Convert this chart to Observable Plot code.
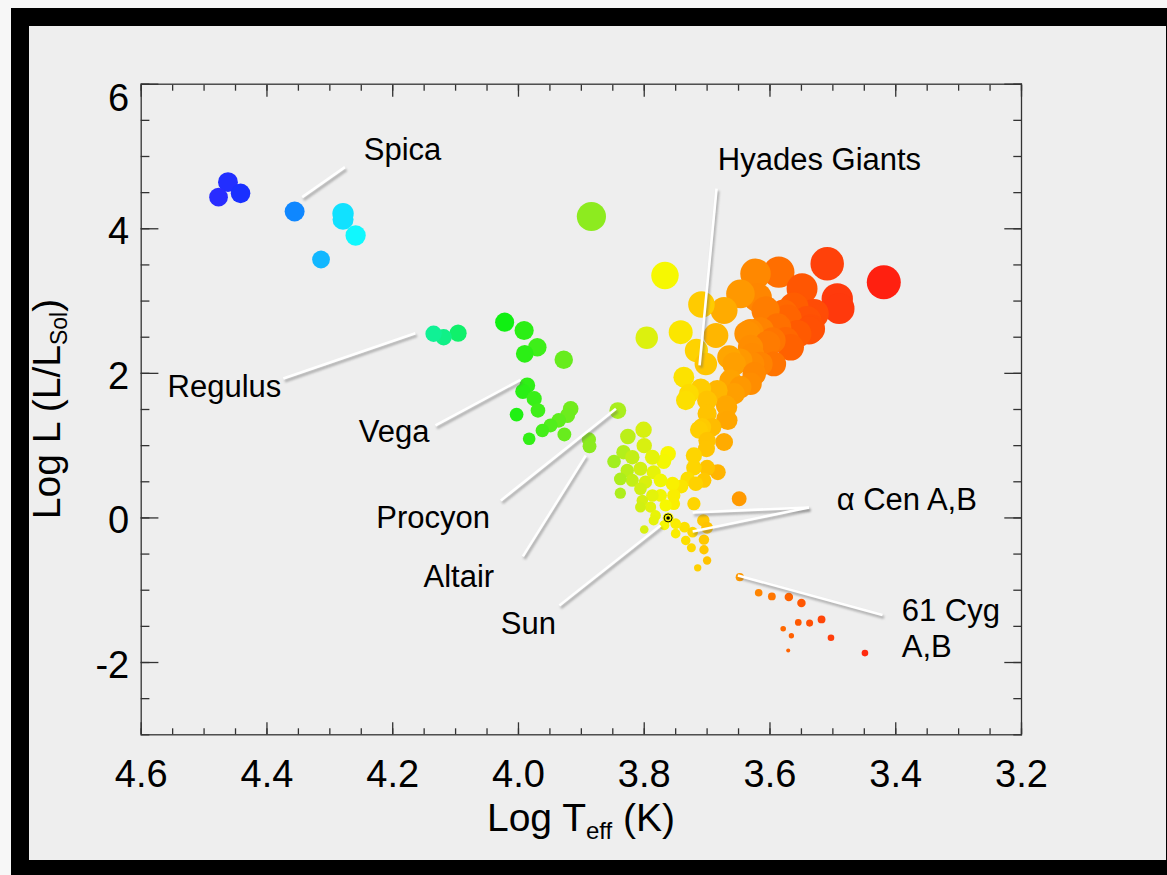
<!DOCTYPE html>
<html>
<head>
<meta charset="utf-8">
<script src="https://cdn.jsdelivr.net/npm/d3@7"></script>
<script src="https://cdn.jsdelivr.net/npm/@observablehq/plot@0.6"></script>
<style>
  html, body { margin: 0; padding: 0; width: 1167px; height: 875px; overflow: hidden; background: #f7f7f7; }
  #frame { position: absolute; left: 11px; top: 8px; width: 1156px; height: 880px; background: #000; }
  #panel { position: absolute; left: 29px; top: 26px; width: 1137px; height: 834px; background: #eeeeee; }
  #chart { position: absolute; left: 0; top: 0; }
</style>
</head>
<body>
<div id="frame"></div>
<div id="panel"></div>
<div id="chart"></div>
<script>
// ---- Stars: log effective temperature (K) and log luminosity (L/Lsun) ----

// Hot luminous stars (B stars, plus one bright F supergiant)
const hotT = [4.462, 4.477, 4.442, 4.356, 4.279, 4.279, 4.259, 4.314, 3.884];
const hotL = [4.645, 4.437, 4.49, 4.239, 4.21, 4.13, 3.907, 3.575, 4.17];

// Regulus and companions
const regT = [4.135, 4.119, 4.096];
const regL = [2.548, 2.50, 2.556];

// A stars and upper main sequence
const aT = [4.022, 3.991, 3.970, 3.990, 3.928, 3.986, 3.993, 3.975, 3.969, 4.003,
            3.983, 3.962, 3.949, 3.936, 3.922, 3.917, 3.927, 3.888, 3.887, 3.842];
const aL = [2.708, 2.593, 2.362, 2.271, 2.188, 1.833, 1.75, 1.649, 1.487, 1.43,
            1.095, 1.21, 1.28, 1.35, 1.418, 1.51, 1.155, 1.085, 0.99, 1.485];

// F, G and K dwarfs around the Sun
const fgkT = [3.801, 3.826, 3.800, 3.833, 3.848, 3.819, 3.787, 3.762, 3.769, 3.827,
              3.806, 3.785, 3.838, 3.819, 3.798, 3.774, 3.755, 3.838, 3.806, 3.787,
              3.774, 3.753, 3.803, 3.806, 3.790, 3.766, 3.753, 3.785, 3.800, 3.768,
              3.750, 3.750, 3.736, 3.734, 3.721, 3.723, 3.725, 3.706, 3.700, 3.705,
              3.705, 3.700, 3.715, 3.649, 3.721, 3.731, 3.718, 3.700, 3.705, 3.683,
              3.741, 3.721, 3.701, 3.713, 3.692, 3.673, 3.700, 3.782];
const fgkL = [1.22, 1.127, 1.0, 0.91, 0.78, 0.84, 0.84, 0.888, 0.78, 0.657,
              0.68, 0.633, 0.54, 0.52, 0.495, 0.52, 0.473, 0.343, 0.404, 0.311,
              0.311, 0.311, 0.24, 0.15, 0.15, 0.173, 0.197, -0.035, -0.16, -0.10,
              -0.08, -0.218, -0.127, -0.311, 0.197, -0.197, -0.412, -0.035, -0.135, -0.30,
              -0.44, -0.588, -0.69, 0.265, 0.694, 0.54, 0.473, 0.694, 0.52, 0.633,
              0.436, 0.865, 0.958, 1.22, 1.256, 1.05, 1.07, 0.035];

// Subgiants and giants (Hyades giants and the red giant branch)
const giantT = [3.729, 3.700, 3.670, 3.734, 3.710, 3.657, 3.631, 3.700, 3.708,
                3.767, 3.796, 3.742, 3.709, 3.673, 3.717, 3.686, 3.737, 3.702, 3.665,
                3.663, 3.684, 3.647, 3.668, 3.667, 3.647, 3.631, 3.615, 3.594, 3.596,
                3.588, 3.623, 3.586, 3.647, 3.620, 3.549, 3.562, 3.607, 3.556, 3.538,
                3.509, 3.493, 3.490, 3.419, 3.530, 3.541, 3.572, 3.567, 3.615, 3.628,
                3.636, 3.657, 3.578, 3.535, 3.588, 3.631, 3.604, 3.575, 3.628, 3.625,
                3.670];
const giantL = [1.718, 1.625, 1.372, 1.625, 1.787, 1.718, 1.856, 1.44, 1.256,
                3.354, 2.492, 2.57, 2.953, 2.87, 2.317, 2.524, 1.947, 2.13, 2.224,
                1.9, 1.763, 1.81, 1.533, 1.35, 2.18, 2.36, 2.13, 2.13, 2.455,
                2.64, 3.378, 3.40, 3.10, 3.05, 3.17, 2.916, 2.87, 2.548, 2.594,
                3.516, 3.03, 2.894, 3.261, 2.824, 2.732, 2.755, 2.36, 2.594, 2.13,
                2.548, 2.13, 2.824, 2.617, 2.617, 2.57, 2.41, 2.455, 2.248, 1.995,
                1.556];

// K and M dwarfs (61 Cyg neighbourhood)
const redT = [3.648, 3.618, 3.597, 3.570, 3.550, 3.518, 3.537, 3.555, 3.579, 3.566, 3.503, 3.571, 3.449];
const redL = [-0.819, -1.035, -1.086, -1.095, -1.178, -1.404, -1.455, -1.445, -1.532, -1.63, -1.657, -1.833, -1.87];

// The Sun
const sunT = [3.762];
const sunL = [0.0];

// Named stars: label anchor (start of text) and pointer lines
const labelText = ["Spica", "Hyades Giants", "Regulus", "Vega", "Procyon", "Altair", "Sun", "α Cen A,B", "61 Cyg\nA,B"];
const labelT = [4.246, 3.683, 4.558, 4.254, 4.226, 4.151, 4.028, 3.494, 3.3905];
const labelL = [5.111, 4.972, 1.833, 1.21, 0.021, -0.795, -1.445, 0.27, -1.515];

const pointerT1 = [4.344, 3.685, 4.374, 4.132, 4.028, 3.993, 3.935, 3.538, 3.538, 3.651];
const pointerL1 = [4.437, 4.557, 1.929, 1.279, 0.242, -0.532, -1.21, 0.145, 0.145, -0.795];
const pointerT2 = [4.276, 3.712, 4.164, 3.997, 3.845, 3.893, 3.774, 3.723, 3.723, 3.421];
const pointerL2 = [4.852, 2.109, 2.556, 1.911, 1.51, 0.864, -0.104, 0.076, -0.187, -1.343];

// Axis ticks
const xMajor = [4.6, 4.4, 4.2, 4.0, 3.8, 3.6, 3.4, 3.2];
const yMajor = [6, 4, 2, 0, -2];
const xMinor = d3.range(3.2, 4.6001, 0.05).map(v => +v.toFixed(2));
const yMinor = d3.range(-3, 6.001, 0.5);

// Temperature colour ramp (cool red through yellow and green to hot blue)
const colorStops = [3.42, 3.50, 3.56, 3.62, 3.67, 3.71, 3.765, 3.80, 3.85, 3.90, 3.95, 4.02, 4.12, 4.26, 4.32, 4.36, 4.44, 4.48];
const colorRange = ["#ff2010", "#ff3c0c", "#ff5c00", "#ff8600", "#ffa800", "#ffcc00", "#f8f800", "#d8f010",
                    "#a0ee20", "#84ea1e", "#50ee1c", "#10f010", "#10f088", "#10f8ff", "#12b0ff", "#0f82ff",
                    "#1830ff", "#2a2cff"];

const zip = (T, L) => T.map((t, i) => ({logT: t, logL: L[i]}));
const stars = [
  ...zip(hotT, hotL), ...zip(regT, regL), ...zip(aT, aL),
  ...zip(fgkT, fgkL), ...zip(giantT, giantL), ...zip(redT, redL)
];
const sun = zip(sunT, sunL);
const labels = labelText.map((name, i) => ({name, logT: labelT[i], logL: labelL[i]}));
const pointers = pointerT1.map((t, i) => ({t1: t, l1: pointerL1[i], t2: pointerT2[i], l2: pointerL2[i]}));

// Stellar radius from L ∝ R² T⁴ (log R in solar units, Teff_sun = 10^3.76)
const logR = d => 0.5 * d.logL - 2 * (d.logT - 3.76);

const axisColor = "#333";
const tickOpts = {label: null, fill: "none", stroke: axisColor, strokeWidth: 1.3};
const font = "'Liberation Sans', Arial, Helvetica, sans-serif";

const plot = Plot.plot({
  width: 1167,
  height: 875,
  marginLeft: 140.7,
  marginRight: 146,
  marginTop: 83.7,
  marginBottom: 140.7,
  style: {background: "transparent", fontFamily: font, color: "#000", overflow: "visible"},
  x: {domain: [4.6, 3.2]},
  y: {domain: [-3, 6]},
  color: {type: "linear", domain: colorStops, range: colorRange, interpolate: "rgb"},
  r: {type: "linear", domain: [-0.54, -0.2, 0.1, 0.93, 2.31], range: [2, 4, 6.3, 10, 17], clamp: true},
  marks: [
    // inward ticks on all four sides
    Plot.axisX(xMinor, {anchor: "bottom", tickSize: -6, ...tickOpts}),
    Plot.axisX(xMajor, {anchor: "bottom", tickSize: -12, ...tickOpts}),
    Plot.axisX(xMinor, {anchor: "top", tickSize: -6, ...tickOpts}),
    Plot.axisX(xMajor, {anchor: "top", tickSize: -12, ...tickOpts}),
    Plot.axisY(yMinor, {anchor: "left", tickSize: -8.7, ...tickOpts}),
    Plot.axisY(yMajor, {anchor: "left", tickSize: -17.7, ...tickOpts}),
    Plot.axisY(yMinor, {anchor: "right", tickSize: -8.7, ...tickOpts}),
    Plot.axisY(yMajor, {anchor: "right", tickSize: -17.7, ...tickOpts}),
    Plot.frame({stroke: axisColor, strokeWidth: 1.3}),
    // tick labels
    Plot.axisX(xMajor, {anchor: "bottom", tickSize: 0, tickPadding: 25, fontSize: 38, label: null,
                        fill: "#000", tickFormat: d3.format(".1f")}),
    Plot.axisY(yMajor.filter(v => v !== 6), {anchor: "left", tickSize: 0, tickPadding: 12, fontSize: 38,
                        label: null, fill: "#000", dy: 3, tickFormat: d => String(d)}),
    Plot.axisY([6], {anchor: "left", tickSize: 0, tickPadding: 12, fontSize: 38,
                        label: null, fill: "#000", dy: 15, tickFormat: d => String(d)}),
    // stars
    Plot.dot(stars, {x: "logT", y: "logL", r: logR, fill: "logT"}),
    Plot.dot(sun, {x: "logT", y: "logL", r: logR, fill: "logT"}),
    // pointer lines with a soft shadow
    Plot.link(pointers, {x1: "t1", y1: "l1", x2: "t2", y2: "l2", stroke: "#666", strokeOpacity: 0.45,
                         strokeWidth: 3, dx: 1.5, dy: 2.5, imageFilter: "blur(1.2px)"}),
    Plot.link(pointers, {x1: "t1", y1: "l1", x2: "t2", y2: "l2", stroke: "#ffffff", strokeWidth: 2.6}),
    // solar symbol
    Plot.dot(sun, {x: "logT", y: "logL", r: 4, stroke: "#000", strokeWidth: 1, fill: "none"}),
    Plot.dot(sun, {x: "logT", y: "logL", r: 1.8, fill: "#000"}),
    // star names
    Plot.text(labels, {x: "logT", y: "logL", text: "name", textAnchor: "start", lineAnchor: "middle",
                       fontSize: 31, fill: "#000", lineHeight: 1.16})
  ]
});

document.getElementById("chart").appendChild(plot);

// Axis titles with subscripts
const svg = d3.select(plot);
const yTitle = svg.append("text")
  .attr("transform", "translate(60,409) rotate(-90)")
  .attr("text-anchor", "middle")
  .attr("font-family", font)
  .attr("font-size", 39)
  .attr("fill", "#000");
yTitle.append("tspan").text("Log L (L/L");
yTitle.append("tspan").attr("font-size", 23).attr("dy", 7).text("Sol");
yTitle.append("tspan").attr("dy", -7).text(")");

const xTitle = svg.append("text")
  .attr("x", 581)
  .attr("y", 831)
  .attr("text-anchor", "middle")
  .attr("font-family", font)
  .attr("font-size", 39)
  .attr("fill", "#000");
xTitle.append("tspan").text("Log T");
xTitle.append("tspan").attr("font-size", 24).attr("dy", 8).text("eff");
xTitle.append("tspan").attr("dy", -8).text(" (K)");
</script>
</body>
</html>
